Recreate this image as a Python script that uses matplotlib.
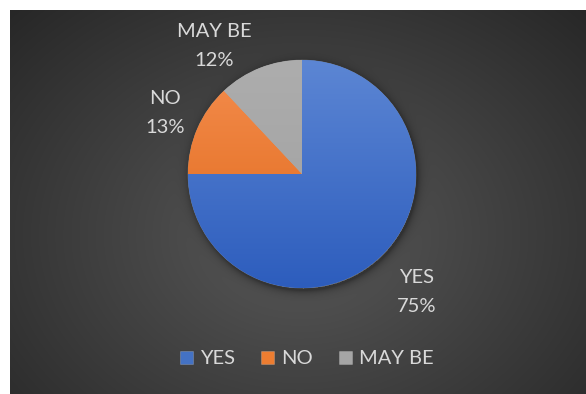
import numpy as np
import matplotlib
matplotlib.use("Agg")
import matplotlib.pyplot as plt

# Survey answers and their shares (percent)
categories = ["YES", "NO", "MAY BE"]
shares = [75, 13, 12]

# Slice colours: base fill plus top/bottom shades for the gradient
base_colors = ["#4472C4", "#ED7D31", "#A5A5A5"]
top_colors = ["#5c86d4", "#f48d4e", "#adadad"]
bottom_colors = ["#2d5dbd", "#df6717", "#9f9f9f"]

W, H = 586, 394
TEXT = "#d9d9d9"
plt.rcParams["font.family"] = ["Lato", "DejaVu Sans"]

fig = plt.figure(figsize=(W / 100, H / 100), dpi=100, facecolor="white")
ax = fig.add_axes([0, 0, 1, 1])
ax.axis("off")

# pie geometry in pixel coordinates (y measured from the top)
cx, cy_top, R = 302, 174, 114
cy = H - cy_top

# dark panel with a soft radial glow and the pie's drop shadow
px0, py0 = 10, 10
xs = np.arange(px0, W) + 0.5
ys = np.arange(py0, H) + 0.5
X, Y = np.meshgrid(xs, ys)
d = np.sqrt(((X - 300) / 330) ** 2 + ((Y - 235) / 260) ** 2)
val = 0.35 - 0.16 * d
dist = np.sqrt((X - cx - 1.5) ** 2 + (Y - cy_top - 2.5) ** 2)
shadow = np.where(dist > R - 2, np.exp(-np.clip(dist - R, 0, None) / 4.0), 0.0)
val = val * (1 - 0.35 * shadow)
ax.imshow(np.dstack([val, val, val]).clip(0, 1), extent=(px0, W, 0, H - py0),
          origin="upper", interpolation="bilinear", zorder=0)

wedges, _ = ax.pie(shares, colors=base_colors, startangle=90, counterclock=False,
                   center=(cx, cy), radius=R, frame=True,
                   wedgeprops=dict(linewidth=0.5, edgecolor=(1, 1, 1, 0.25)))

# vertical gradient inside each slice
t = np.linspace(0, 1, 256)[:, None]
for w, c0, c1 in zip(wedges, top_colors, bottom_colors):
    a = np.array(matplotlib.colors.to_rgb(c0))
    b = np.array(matplotlib.colors.to_rgb(c1))
    grad = (a[None, None, :] * (1 - t[:, :, None]) + b[None, None, :] * t[:, :, None])
    grad = np.repeat(grad, 2, axis=1)
    im = ax.imshow(grad, extent=(cx - R, cx + R, cy - R, cy + R), origin="upper",
                   interpolation="bilinear", zorder=w.get_zorder() + 0.1)
    im.set_clip_path(w)

# data labels (pixel centres, y from top)
label_pos = [(417, 292), (165, 113), (214, 46)]
for cat, s, (lx, ly) in zip(categories, shares, label_pos):
    ax.text(lx, H - ly, f"{cat}\n{s}%", ha="center", va="center", color=TEXT,
            fontsize=14.5, linespacing=1.8, zorder=5)

ax.legend(wedges, categories, loc="center", bbox_to_anchor=(307 / W, 1 - 359 / H),
          ncol=3, frameon=False, fontsize=14.5, labelcolor=TEXT,
          handlelength=0.65, handleheight=0.65, handletextpad=0.35, columnspacing=1.3)

ax.set_xlim(0, W)
ax.set_ylim(0, H)
ax.set_aspect("equal")
fig.savefig("out.png", dpi=100, facecolor="white")
